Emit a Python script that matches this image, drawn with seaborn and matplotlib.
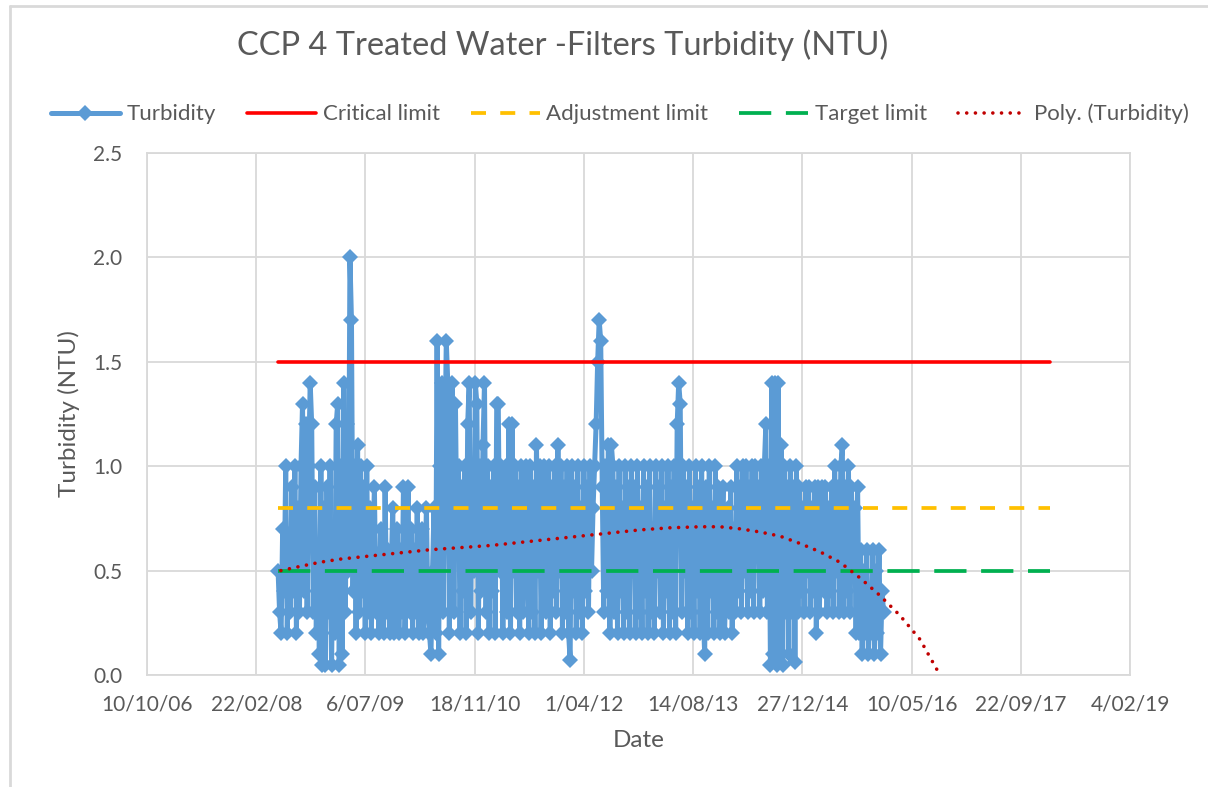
import pandas as pd
import matplotlib
matplotlib.use("Agg")
import matplotlib.pyplot as plt
import seaborn as sns
from matplotlib.lines import Line2D

# Weekly turbidity readings (NTU), first reading 2 Jun 2008 (Excel serial 39600)
start_serial = 39600
turbidity = [
    0.5, 0.3, 0.2, 0.7, 0.4, 1.0, 0.2, 0.6, 0.3, 0.9,
    0.4, 1.0, 0.2, 0.8, 0.3, 1.0, 1.3, 0.4, 1.2, 0.3,
    1.0, 1.4, 1.2, 0.3, 0.9, 0.2, 0.6, 0.1, 1.0, 0.05,
    0.8, 0.05, 0.9, 0.3, 1.0, 0.05, 0.7, 0.2, 1.2, 1.3,
    0.05, 1.0, 0.1, 1.4, 0.3, 1.2, 0.5, 2.0, 1.7, 0.4,
    1.0, 0.2, 1.1, 0.3, 1.0, 0.4, 0.9, 0.2, 1.0, 0.3,
    0.8, 0.2, 0.6, 0.9, 0.3, 0.5, 0.2, 0.7, 0.4, 0.2,
    0.9, 0.3, 0.6, 0.2, 0.5, 0.8, 0.2, 0.4, 0.7, 0.2,
    0.6, 0.3, 0.9, 0.2, 0.5, 0.9, 0.3, 0.7, 0.2, 0.6,
    0.3, 0.8, 0.2, 0.5, 0.7, 0.2, 0.4, 0.8, 0.3, 0.2,
    0.1, 0.5, 0.8, 0.2, 1.6, 0.1, 1.0, 1.4, 0.3, 1.0,
    1.6, 1.4, 0.2, 1.0, 1.4, 0.3, 1.3, 0.6, 1.0, 0.2,
    0.9, 0.4, 1.0, 0.2, 1.2, 1.4, 0.3, 1.0, 0.5, 1.4,
    1.3, 0.2, 1.0, 0.4, 1.1, 1.4, 0.3, 1.0, 0.2, 0.9,
    0.4, 1.0, 0.2, 1.3, 1.3, 0.5, 1.0, 0.2, 0.8, 1.0,
    0.3, 1.2, 0.2, 1.2, 0.5, 1.0, 0.3, 0.9, 0.2, 1.0,
    0.3, 0.8, 1.0, 0.5, 0.2, 1.0, 0.3, 0.9, 0.2, 1.1,
    0.5, 1.0, 0.2, 0.8, 1.0, 0.3, 0.6, 1.0, 0.2, 0.9,
    0.4, 1.0, 0.3, 1.1, 0.5, 1.0, 0.2, 0.9, 0.3, 1.0,
    0.2, 0.07, 1.0, 0.4, 0.9, 0.2, 1.0, 0.3, 0.8, 0.2,
    1.0, 0.4, 0.9, 0.3, 1.0, 0.5, 0.8, 1.0, 1.2, 1.5,
    1.7, 1.6, 0.9, 0.3, 1.0, 0.4, 1.1, 0.2, 1.1, 1.0,
    0.3, 0.9, 0.2, 1.0, 0.4, 0.8, 0.2, 1.0, 0.3, 0.9,
    0.2, 1.0, 0.5, 0.9, 0.2, 1.0, 0.3, 0.8, 0.2, 1.0,
    0.4, 0.9, 0.2, 1.0, 0.3, 0.7, 0.2, 1.0, 0.5, 0.9,
    0.3, 1.0, 0.2, 0.8, 0.4, 1.0, 0.2, 0.9, 0.3, 1.0,
    0.2, 1.2, 1.4, 1.3, 0.3, 1.0, 0.5, 0.9, 0.2, 1.0,
    0.3, 0.8, 0.2, 1.0, 0.4, 0.9, 0.2, 1.0, 0.3, 0.1,
    0.9, 0.2, 1.0, 0.4, 0.8, 0.2, 1.0, 0.3, 0.9, 0.2,
    0.6, 0.9, 0.2, 0.5, 0.8, 0.3, 0.9, 0.2, 0.7, 0.3,
    1.0, 0.4, 0.9, 0.3, 1.0, 0.5, 1.0, 0.3, 0.9, 0.4,
    1.0, 0.3, 1.0, 0.6, 0.9, 0.3, 1.0, 0.4, 1.0, 1.2,
    0.3, 1.0, 0.05, 1.4, 0.1, 1.4, 0.05, 1.4, 0.06, 1.1,
    0.05, 1.0, 0.3, 0.9, 0.1, 1.0, 0.3, 0.9, 0.06, 1.0,
    0.3, 0.9, 0.4, 0.8, 0.3, 0.9, 0.5, 0.9, 0.3, 0.8,
    0.4, 0.9, 0.2, 0.9, 0.3, 0.7, 0.9, 0.4, 0.9, 0.3,
    0.8, 0.4, 0.9, 0.3, 1.0, 0.5, 0.9, 0.3, 1.0, 1.1,
    0.3, 0.9, 0.4, 1.0, 0.3, 0.9, 0.5, 0.8, 0.2, 0.9,
    0.2, 0.6, 0.1, 0.5, 0.2, 0.6, 0.1, 0.4, 0.2, 0.6,
    0.1, 0.5, 0.2, 0.6, 0.1, 0.4, 0.3,
]

# Limit lines (NTU) and their date span (Excel serials)
limit_serials = [39600, 43135]
critical_limit = 1.5
adjustment_limit = 0.8
target_limit = 0.5

# Polynomial trendline (Excel serial, NTU)
trend_serials = [39613, 39700, 39792, 39884, 40021, 40158, 40296, 40433, 40570,
                 40708, 40845, 40982, 41120, 41257, 41394, 41532, 41623, 41715,
                 41806, 41898, 41989, 42081, 42172, 42264, 42356, 42447, 42539, 42630]
trend_values = [0.50, 0.52, 0.54, 0.555, 0.57, 0.585, 0.60, 0.61, 0.62,
                0.635, 0.65, 0.665, 0.68, 0.695, 0.705, 0.71, 0.71, 0.70,
                0.685, 0.665, 0.63, 0.59, 0.54, 0.465, 0.38, 0.285, 0.17, 0.0]

# Axis ticks (Excel serials, every 500 days)
tick_serials = [39000, 39500, 40000, 40500, 41000, 41500, 42000, 42500, 43000, 43500]


def excel_date(serials):
    return pd.to_datetime(pd.Series(serials), unit="D", origin="1899-12-30")


df = pd.DataFrame({
    "Date": excel_date([start_serial + 7 * i for i in range(len(turbidity))]),
    "Turbidity": turbidity,
})
lim_dates = excel_date(limit_serials)
limits_df = pd.DataFrame({
    "Date": lim_dates,
    "Critical": [critical_limit] * 2,
    "Adjustment": [adjustment_limit] * 2,
    "Target": [target_limit] * 2,
})
trend_df = pd.DataFrame({"Date": excel_date(trend_serials), "Trend": trend_values})

sns.set_style("white")
plt.rcParams["font.family"] = ["Lato", "DejaVu Sans"]
grey = "#595959"

fig = plt.figure(figsize=(12.08, 7.87), dpi=100)
ax = fig.add_axes([147 / 1208, 1 - 675 / 787, 983 / 1208, 522 / 787])

sns.lineplot(data=df, x="Date", y="Turbidity", ax=ax, color="#5b9bd5", linewidth=3.6,
             marker="D", markersize=8, markeredgewidth=0, label="Turbidity",
             errorbar=None)
sns.lineplot(data=limits_df, x="Date", y="Critical", ax=ax, color="#ff0000",
             linewidth=2.6, label="Critical limit", errorbar=None)
sns.lineplot(data=limits_df, x="Date", y="Adjustment", ax=ax, color="#ffc000",
             linewidth=2.7, linestyle=(0, (4.0, 3.8)), label="Adjustment limit",
             errorbar=None)
sns.lineplot(data=limits_df, x="Date", y="Target", ax=ax, color="#00b050",
             linewidth=2.7, linestyle=(0, (8.6, 3.9)), label="Target limit",
             errorbar=None)
sns.lineplot(data=trend_df, x="Date", y="Trend", ax=ax, color="#c00000",
             linewidth=2.6, linestyle=(0, (0.01, 2.4)), dash_capstyle="round",
             label="Poly. (Turbidity)", errorbar=None, sort=False)

tick_dates = excel_date(tick_serials)
ax.set_xlim(tick_dates.iloc[0], tick_dates.iloc[-1])
ax.set_xticks(tick_dates)
ax.set_xticklabels([f"{d.day}/{d.month:02d}/{d.year % 100:02d}" for d in tick_dates])
ax.set_ylim(0, 2.5)
ax.set_yticks([0, 0.5, 1.0, 1.5, 2.0, 2.5])
ax.set_yticklabels([f"{v:.1f}" for v in [0, 0.5, 1.0, 1.5, 2.0, 2.5]])
ax.grid(True, color="#d9d9d9", linewidth=1.3)
ax.set_axisbelow(True)
for s in ax.spines.values():
    s.set_color("#d9d9d9")
    s.set_linewidth(1.3)
ax.tick_params(length=0, labelsize=15, labelcolor=grey)
ax.tick_params(axis="x", pad=14)
ax.tick_params(axis="y", pad=18)
ax.set_xlabel("Date", fontsize=17.5, color=grey, labelpad=11)
ax.set_ylabel("Turbidity (NTU)", fontsize=17.5, color=grey, labelpad=9)

handles, labels = ax.get_legend_handles_labels()
ax.get_legend().remove()
leg = fig.legend(handles, labels, loc="center", bbox_to_anchor=(0.513, 1 - 114 / 787),
                 ncol=5, frameon=False, fontsize=16, handlelength=3.1,
                 columnspacing=1.4, handletextpad=0.3)
for t in leg.get_texts():
    t.set_color(grey)

fig.text(563 / 1208, 1 - 45 / 787, "CCP 4 Treated Water -Filters Turbidity (NTU)",
         ha="center", va="center", fontsize=23.5, color=grey)

# chart area border
fig.add_artist(Line2D([10 / 1208, 1], [1 - 6 / 787] * 2, color="#d9d9d9", lw=2))
fig.add_artist(Line2D([10 / 1208] * 2, [0, 1 - 6 / 787], color="#d9d9d9", lw=2))

fig.savefig("out.png", dpi=100)
